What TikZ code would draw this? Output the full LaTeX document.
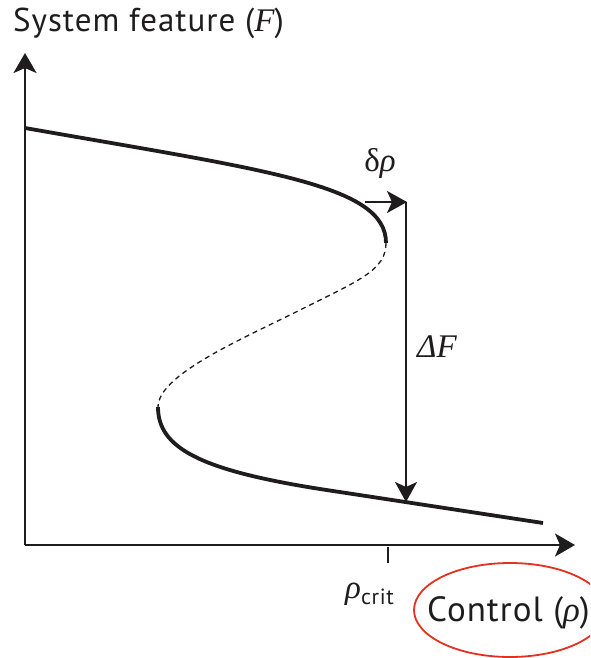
\documentclass[tikz,border=0pt]{standalone}
\usepackage{fontspec}
\setmainfont[LetterSpace=3]{PT Sans}
\newfontfamily\grk{Liberation Serif}
\newcommand{\mi}[1]{{\grk\itshape #1}}
\usetikzlibrary{arrows.meta}
\definecolor{annot}{RGB}{228,48,30}
\definecolor{ink}{RGB}{30,28,28}
\begin{document}
\begin{tikzpicture}[x=1pt,y=-1pt,
  axis/.style={ink,line width=2.2pt,-{Stealth[length=20pt,width=23pt,inset=5pt]}},
  branch/.style={ink,line width=3.8pt},
  unstable/.style={ink,line width=1.3pt,dash pattern=on 5pt off 4pt},
  jump/.style={ink,line width=2pt,-{Stealth[length=20pt,width=22pt,inset=5pt]}},
  lbl/.style={inner sep=0pt,text=ink,font=\fontsize{33}{38}\selectfont},
]
\useasboundingbox (0,0) rectangle (590,658);
\clip (0,0) rectangle (590,658);
% axes
\coordinate (O) at (25,545);
\coordinate (Ytop) at (25,53);
\coordinate (Xend) at (575,545);
\draw[axis] (O) -- (Ytop);
\draw[axis] (O) -- (Xend);
% tick
\coordinate (t1) at (388,547);
\coordinate (t2) at (388,563);
\draw[ink,line width=1.2pt] (t1) -- (t2);
% S-curve
\coordinate (a0) at (25,128);
\coordinate (a1) at (386,243);
\coordinate (m) at (300,310);
\coordinate (b0) at (158,407);
\coordinate (b1) at (320,489);
\coordinate (b2) at (543,523);
\draw[branch] (a0) .. controls (270,171) and (386,185) .. (a1);
\draw[unstable] (a1) .. controls (386,270) and (360,280) .. (m)
   .. controls (240,340) and (158,375) .. (b0);
\draw[branch] (b0) .. controls (158,448) and (200,470) .. (b1) -- (b2);
% jump arrows
\coordinate (d0) at (365,202);
\coordinate (d1) at (407,202);
\coordinate (f1) at (406,502);
\draw[jump] (d0) -- (d1);
\draw[jump] ([xshift=-1pt]d1) -- (f1);
% labels
\node[lbl,anchor=base west] (ylab) at (13,32) {System feature (\mi{F})};
\node[lbl] (drho) at (380,163) {{\grk δ}\mi{ρ}};
\node[lbl] (dF) at (437,347) {\mi{ΔF}};
\node[lbl,anchor=base west] (rcrit) at (345,598) {\mi{ρ}\raisebox{-6pt}{\fontsize{22}{26}\selectfont crit}};
\node[lbl,anchor=base west,font=\fontsize{35}{40}\selectfont] (ctl) at (427,621) {Control (\mi{ρ})};
\draw[annot,line width=1.8pt] (510,610) ellipse [x radius=96, y radius=47];
\end{tikzpicture}
\end{document}
